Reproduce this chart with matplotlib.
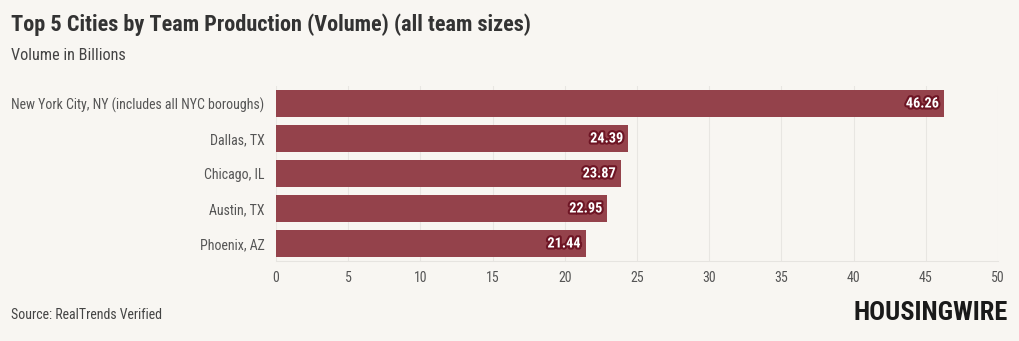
import matplotlib
matplotlib.use("Agg")
import matplotlib.pyplot as plt
import matplotlib.patheffects as pe
from matplotlib import font_manager

cities = ["New York City, NY (includes all NYC boroughs)", "Dallas, TX",
          "Chicago, IL", "Austin, TX", "Phoenix, AZ"]
volume = [46.26, 24.39, 23.87, 22.95, 21.44]
xticks = [0, 5, 10, 15, 20, 25, 30, 35, 40, 45, 50]

names = {f.name for f in font_manager.fontManager.ttflist}
fam = "Roboto Condensed" if "Roboto Condensed" in names else "Roboto"
plt.rcParams["font.family"] = [fam, "DejaVu Sans"]

bg = "#f8f6f2"
bar_col = "#94424b"

fig = plt.figure(figsize=(10.2, 3.41), dpi=100, facecolor=bg)
ax = fig.add_axes([276 / 1020, 1 - 261 / 341, 722 / 1020, 175 / 341])
ax.set_facecolor(bg)

y = list(range(len(cities)))
ax.barh(y, volume, height=0.77, color=bar_col, zorder=2)
ax.set_ylim(len(cities) - 0.5, -0.5)
ax.set_xlim(0, 50)
ax.set_xticks(xticks)
ax.set_xticklabels([str(t) for t in xticks])
ax.set_yticks(y)
ax.set_yticklabels(cities)
ax.tick_params(axis="both", length=0, labelsize=10, colors="#555555")
ax.tick_params(axis="x", pad=7)
ax.tick_params(axis="y", pad=8.3)
ax.grid(axis="x", color="#e8e6e2", linewidth=0.8, zorder=0)
for s in ["top", "right", "left"]:
    ax.spines[s].set_visible(False)
ax.spines["bottom"].set_color("#e6e4e0")

for yi, v in zip(y, volume):
    ax.text(v - 0.35, yi, f"{v:.2f}", ha="right", va="center", color="white",
            fontsize=10.3, fontweight="bold", zorder=3,
            path_effects=[pe.withStroke(linewidth=3, foreground="#6e1524")])

fig.text(11 / 1020, 1 - 25 / 341, "Top 5 Cities by Team Production (Volume) (all team sizes)",
         fontsize=16, fontweight="bold", color="#333333", va="center")
fig.text(11 / 1020, 1 - 55 / 341, "Volume in Billions", fontsize=11.7,
         color="#444444", va="center")
fig.text(11 / 1020, 1 - 315 / 341, "Source: RealTrends Verified", fontsize=10,
         color="#444444", va="center")
fig.text(1008 / 1020, 1 - 313 / 341, "HOUSINGWIRE", fontsize=19, fontweight="black",
         color="#1a1a1a", va="center", ha="right")

fig.savefig("out.png", dpi=100, facecolor=bg)
